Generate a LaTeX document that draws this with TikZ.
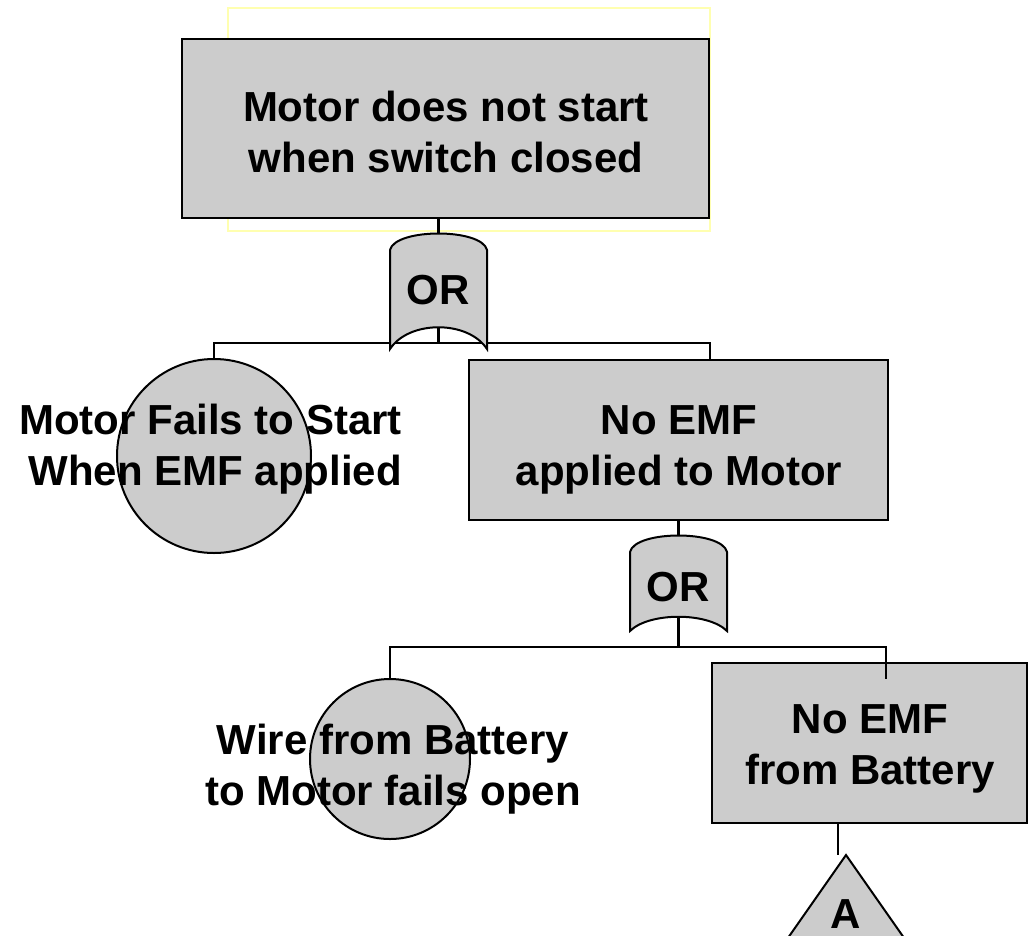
\documentclass[tikz,border=0pt]{standalone}
\usepackage{fontspec}
\setmainfont{Liberation Sans}
\definecolor{fillgray}{HTML}{CCCCCC}
\definecolor{paleyellow}{HTML}{FFFFB0}
\tikzset{
  box/.style={draw=black, fill=fillgray, line width=2.6pt, rectangle, inner sep=0pt},
  event/.style={draw=black, fill=fillgray, line width=2pt, circle, inner sep=0pt},
  gate/.style={draw=black, fill=fillgray, line width=2pt, line join=miter},
  wire/.style={draw=black, line width=2.2pt},
  txt/.style={font=\fontsize{42}{51}\selectfont\bfseries, inner sep=0pt},
}
\begin{document}
\begin{tikzpicture}[x=1pt,y=-1pt]
\useasboundingbox (0,0) rectangle (1033,935);
\clip (0,0) rectangle (1033,935);
\fill[white] (0,0) rectangle (1033,935);

% faint frame behind the top event
\draw[paleyellow, line width=1.5pt] (228,8) rectangle (710,231);

% events
\node[box, minimum width=527pt, minimum height=179pt] (b1) at (445.5,128.5) {};
\node[box, minimum width=419pt, minimum height=160pt] (b2) at (678.5,440) {};
\node[box, minimum width=315pt, minimum height=160pt] (b3) at (869.5,743) {};
\node[event, minimum size=194pt] (c1) at (214,456) {};
\node[event, minimum size=160pt] (c2) at (390,759) {};

% gate anchor points
\coordinate (g1top) at (438.5,233.5);
\coordinate (g1bot) at (438.5,327);
\coordinate (j1) at (438.5,343);
\coordinate (b2in) at (710,360);
\coordinate (g2top) at (678.5,535.5);
\coordinate (g2bot) at (678.5,617);
\coordinate (j2) at (678.5,647);
\coordinate (b3in) at (886,679);
\coordinate (k3) at (838,855);

% connectors
\draw[wire] (b1.south -| g1top) -- (g1top);
\draw[wire] (g1bot) -- (j1);
\draw[wire] (c1.north) |- (j1) -| (b2in);
\draw[wire] (b2.south -| g2top) -- (g2top);
\draw[wire] (g2bot) -- (j2);
\draw[wire] (c2.north) |- (j2) -| (b3in);
\draw[wire] (b3.south -| k3) -- (k3);

% OR gates
\draw[gate] (390,250) .. controls (395,228) and (482,228) .. (487,250)
  -- (487,349) .. controls (468,320) and (409,320) .. (390,349) -- cycle;
\node[txt, anchor=base] (or1) at (438,304) {OR};
\draw[gate] (630,552) .. controls (635,530) and (722,530) .. (727,552)
  -- (727,631) .. controls (708,612) and (649,612) .. (630,631) -- cycle;
\node[txt, anchor=base] (or2) at (678,601) {OR};

% transfer triangle
\draw[gate] (846,855) -- (783,945) -- (909,945) -- cycle;
\node[txt, anchor=base] (tA) at (846,928) {A};

% texts
\node[txt, anchor=base] (t1) at (446,121)
  {\begin{tabular}[t]{@{}c@{}}Motor does not start\\when switch closed\end{tabular}};
\node[txt, anchor=base east] (t2) at (402,434)
  {\begin{tabular}[t]{@{}r@{}}Motor Fails to Start\\When EMF applied\end{tabular}};
\node[txt, anchor=base] (t3) at (679,434)
  {\begin{tabular}[t]{@{}c@{}}No EMF\\applied to Motor\end{tabular}};
\node[txt, anchor=base] (t4) at (393,754)
  {\begin{tabular}[t]{@{}c@{}}Wire from Battery\\to Motor fails open\end{tabular}};
\node[txt, anchor=base] (t5) at (870,733)
  {\begin{tabular}[t]{@{}c@{}}No EMF\\from Battery\end{tabular}};
\end{tikzpicture}
\end{document}
